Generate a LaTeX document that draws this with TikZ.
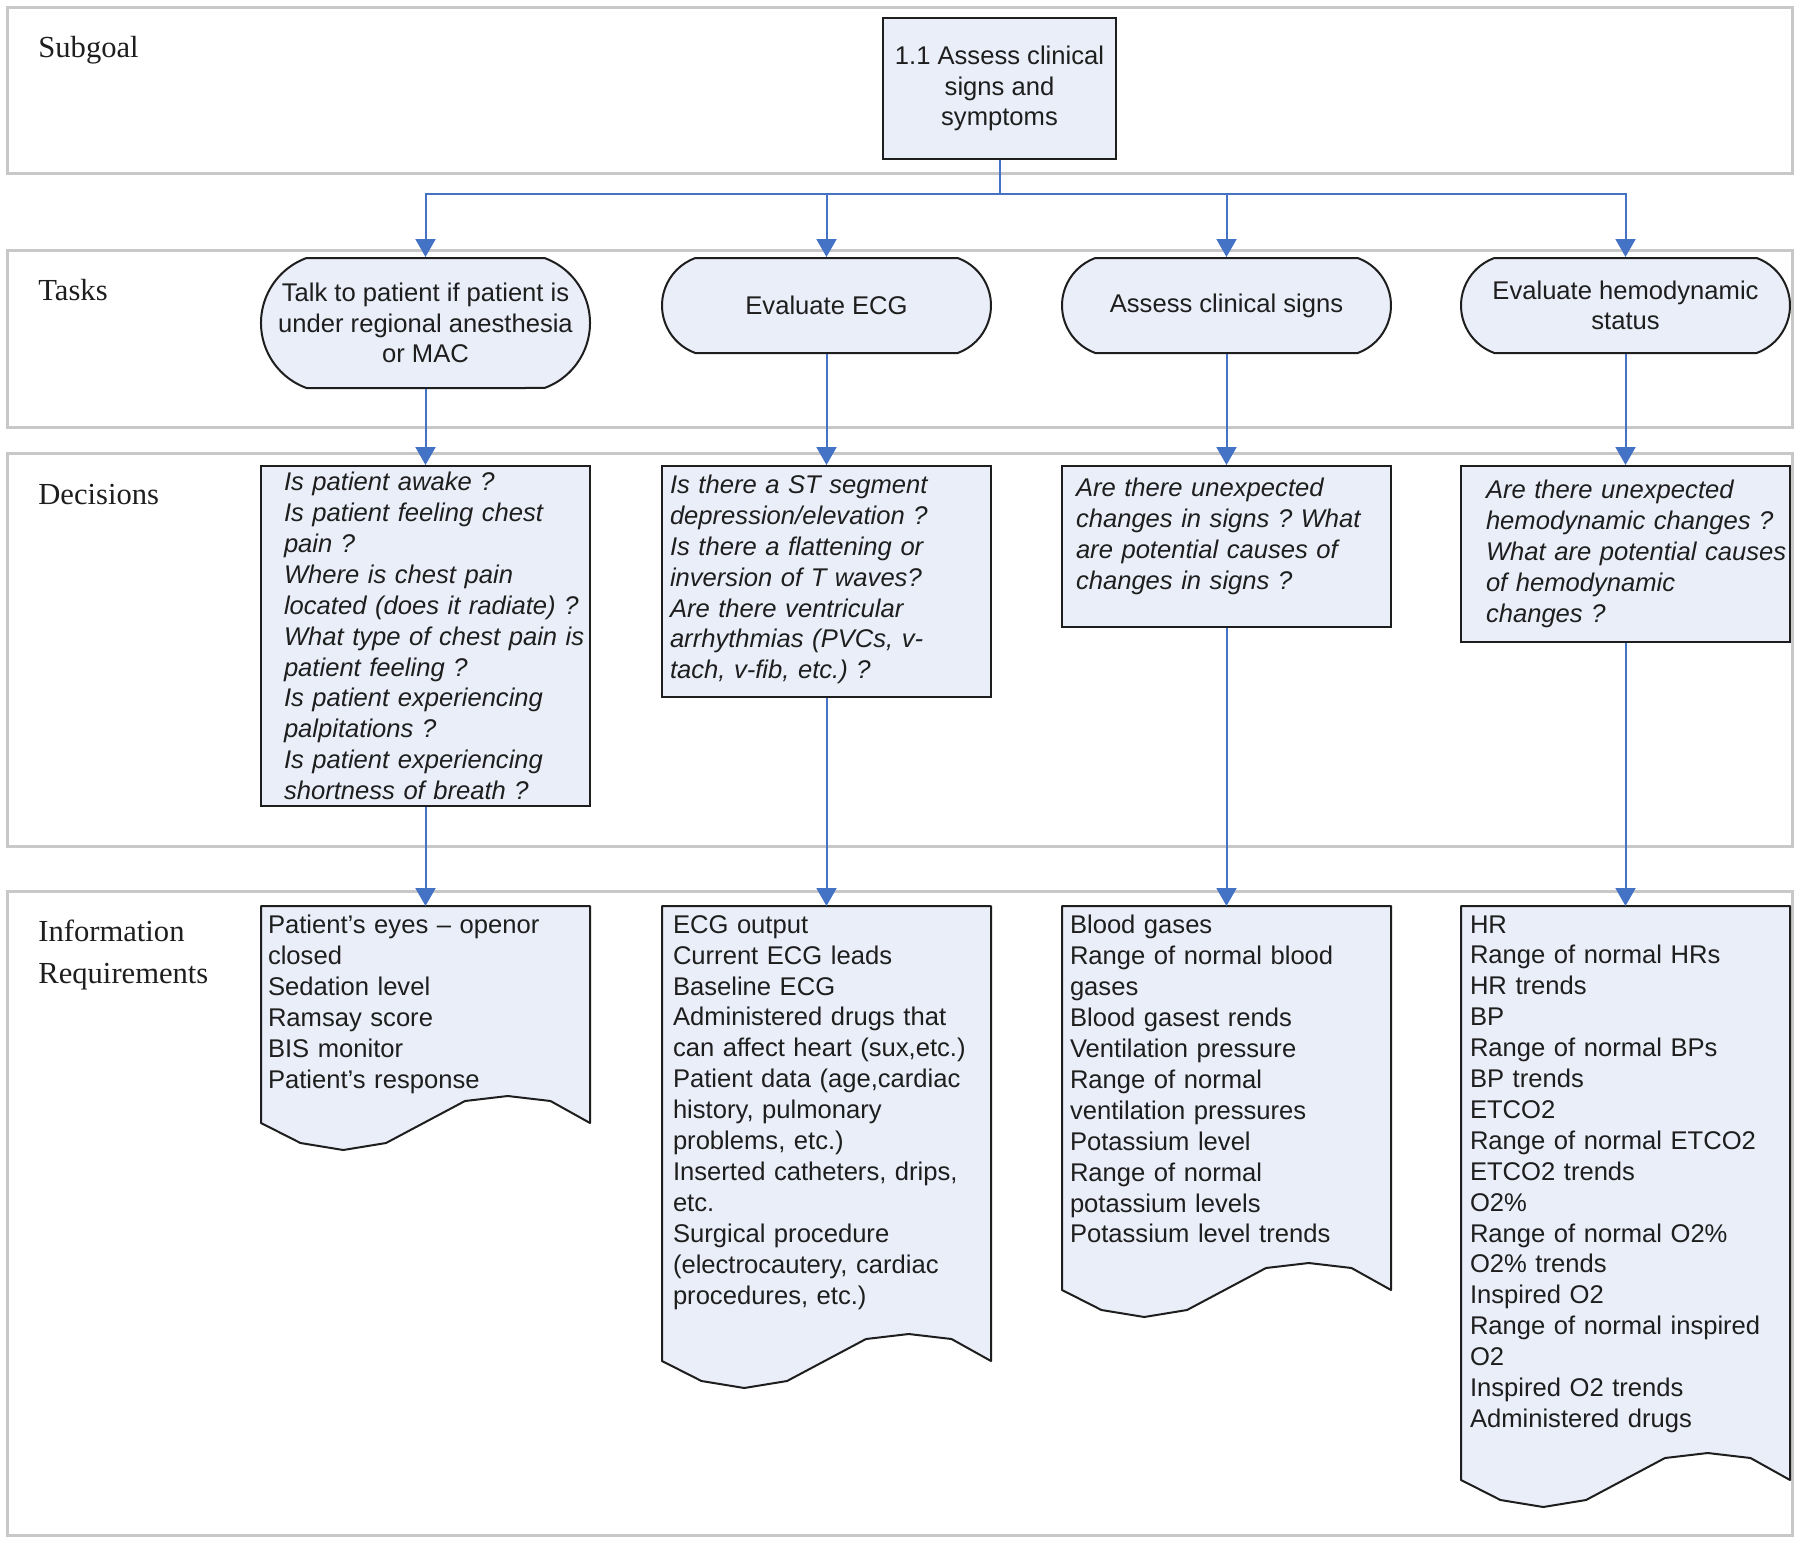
\documentclass[tikz,border=0pt]{standalone}
\usepackage{fontspec}
\setmainfont{Liberation Serif}
\newfontfamily\arialf{Liberation Sans}
\usetikzlibrary{arrows.meta,shapes.misc}
\definecolor{boxfill}{RGB}{233,238,248}
\definecolor{connblue}{RGB}{68,114,196}
\definecolor{lanegray}{RGB}{200,200,200}
\definecolor{inkc}{RGB}{30,30,30}
\pgfdeclarelayer{background}
\pgfsetlayers{background,main}
\newcommand{\lpad}[1]{\leftskip=#1\relax}
\newcommand{\docshape}[3]{%
  \draw[docshape] (#1,906) -- ({#1+#2},906) -- ({#1+#2},#3)
   -- ({#1+0.88*#2},{#3-22}) -- ({#1+0.75*#2},{#3-27}) -- ({#1+0.62*#2},{#3-22})
   -- ({#1+0.38*#2},{#3+20}) -- ({#1+0.25*#2},{#3+27}) -- ({#1+0.12*#2},{#3+20})
   -- (#1,#3) -- cycle;}
\tikzset{
  lane/.style={draw=lanegray, line width=1.5pt},
  lanelabel/.style={font=\fontsize{15.3}{21}\selectfont, text=inkc, inner sep=0pt, align=left},
  goalbox/.style={font=\arialf\fontsize{12.8}{15.3}\selectfont, text=inkc, draw=inkc, fill=boxfill,
    line width=1pt, rectangle, align=center, minimum width=116.5pt, minimum height=70.5pt, inner sep=0pt},
  taskbox/.style={font=\arialf\fontsize{12.8}{15.2}\selectfont, text=inkc, draw=inkc, fill=boxfill,
    line width=1pt, rounded rectangle, rounded rectangle arc length=140, align=center,
    minimum width=164.5pt, inner sep=0pt},
  decbox/.style={font=\arialf\itshape\fontsize{12.8}{15.45}\selectfont, text=inkc, draw=inkc, fill=boxfill,
    line width=1pt, rectangle, anchor=north, text width=163.5pt, inner xsep=0.5pt, inner ysep=0pt, align=left},
  infotxt/.style={font=\arialf\fontsize{12.8}{15.45}\selectfont, text=inkc, rectangle, anchor=north,
    text width=163.5pt, inner xsep=0.5pt, inner ysep=4.5pt, align=left},
  docshape/.style={draw=inkc, fill=boxfill, line width=1pt, line join=round},
  conn/.style={draw=connblue, line width=1pt},
  arr/.style={conn, -{Triangle[width=10pt,length=9pt]}},
}
\begin{document}
\frenchspacing
\begin{tikzpicture}[x=0.5pt,y=-0.5pt]
\useasboundingbox (0,0) rectangle (1800,1543);
\begin{pgfonlayer}{background}
  \fill[white] (0,0) rectangle (1800,1543);
  \draw[lane] (7,7) rectangle (1792,173);
  \draw[lane] (7,250) rectangle (1792,427);
  \draw[lane] (7,453) rectangle (1792,846);
  \draw[lane] (7,891) rectangle (1792,1535);
  \docshape{261}{329}{1123}
  \docshape{662}{329}{1361}
  \docshape{1062}{329}{1290}
  \docshape{1461}{329}{1480}
\end{pgfonlayer}

% lane labels
\node[lanelabel, anchor=base west] (lsub) at (38,57) {Subgoal};
\node[lanelabel, anchor=base west] (ltask) at (38,300) {Tasks};
\node[lanelabel, anchor=base west] (ldec) at (38,504) {Decisions};
\node[lanelabel, anchor=north west] (linfo) at (38,920) {Information\\Requirements};

% subgoal
\node[goalbox] (sg) at (999.5,88.5) {1.1 Assess clinical\\signs and\\symptoms};
\coordinate (j) at (999.5,194);

% tasks
\node[taskbox, minimum height=65pt] (t1) at (425.5,323) {Talk to patient if patient is\\under regional anesthesia\\or MAC};
\node[taskbox, minimum height=47.5pt] (t2) at (826.5,305.5) {Evaluate ECG};
\node[taskbox, minimum height=47.5pt] (t3) at (1226.5,305.5) {Assess clinical signs};
\node[taskbox, minimum height=47.5pt] (t4) at (1625.5,305.5) {Evaluate hemodynamic\\status};

% decisions
\node[decbox, minimum height=170pt] (d1) at (425.5,465) {\lpad{11pt}Is patient awake ?\\Is patient feeling chest\\pain ?\\Where is chest pain\\located (does it radiate) ?\\What type of chest pain is\\patient feeling ?\\Is patient experiencing\\palpitations ?\\Is patient experiencing\\shortness of breath ?\par};
\node[decbox, minimum height=115.5pt] (d2) at (826.5,465) {\lpad{3.5pt}Is there a ST segment\\depression/elevation ?\\Is there a flattening or\\inversion of T waves?\\Are there ventricular\\arrhythmias (PVCs, v-\\tach, v-fib, etc.) ?\par\vspace*{2pt}};
\node[decbox, minimum height=80.5pt] (d3) at (1226.5,465) {\lpad{6.5pt}Are there unexpected\\changes in signs ? What\\are potential causes of\\changes in signs ?\par\vspace*{10pt}};
\node[decbox, minimum height=88pt] (d4) at (1625.5,465) {\lpad{12pt}Are there unexpected\\hemodynamic changes ?\\What are potential causes\\of hemodynamic\\changes ?\par};

% information requirements
\node[infotxt] (i1) at (425.5,906) {\lpad{3pt}Patient’s eyes – openor\\closed\\Sedation level\\Ramsay score\\BIS monitor\\Patient’s response\par};
\node[infotxt] (i2) at (826.5,906) {\lpad{5pt}ECG output\\Current ECG leads\\Baseline ECG\\Administered drugs that\\can affect heart (sux,etc.)\\Patient data (age,cardiac\\history, pulmonary\\problems, etc.)\\Inserted catheters, drips,\\etc.\\Surgical procedure\\(electrocautery, cardiac\\procedures, etc.)\par};
\node[infotxt] (i3) at (1226.5,906) {\lpad{3.5pt}Blood gases\\Range of normal blood\\gases\\Blood gasest rends\\Ventilation pressure\\Range of normal\\ventilation pressures\\Potassium level\\Range of normal\\potassium levels\\Potassium level trends\par};
\node[infotxt] (i4) at (1625.5,906) {\lpad{4pt}HR\\Range of normal HRs\\HR trends\\BP\\Range of normal BPs\\BP trends\\ETCO2\\Range of normal ETCO2\\ETCO2 trends\\O2\%\\Range of normal O2\%\\O2\% trends\\Inspired O2\\Range of normal inspired\\O2\\Inspired O2 trends\\Administered drugs\par};

% connectors
\draw[conn] (sg.south) -- (j);
\draw[arr] (j) -| (t1.north);
\draw[arr] (j) -| (t2.north);
\draw[arr] (j) -| (t3.north);
\draw[arr] (j) -| (t4.north);
\draw[arr] (t1.south) -- (d1.north);
\draw[arr] (t2.south) -- (d2.north);
\draw[arr] (t3.south) -- (d3.north);
\draw[arr] (t4.south) -- (d4.north);
\draw[arr] (d1.south) -- (i1.north);
\draw[arr] (d2.south) -- (i2.north);
\draw[arr] (d3.south) -- (i3.north);
\draw[arr] (d4.south) -- (i4.north);
\end{tikzpicture}
\end{document}
